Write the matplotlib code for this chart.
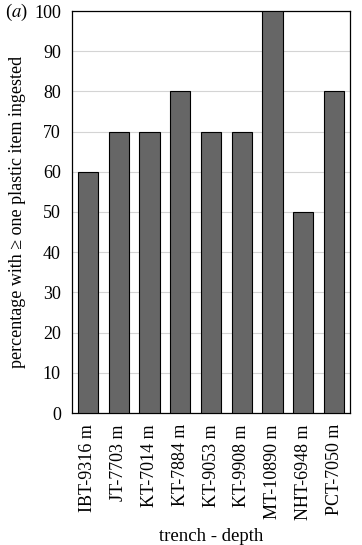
import numpy as np
import matplotlib
matplotlib.use("Agg")
import matplotlib.pyplot as plt

# data
trenches = ["IBT-9316 m", "JT-7703 m", "KT-7014 m", "KT-7884 m", "KT-9053 m",
            "KT-9908 m", "MT-10890 m", "NHT-6948 m", "PCT-7050 m"]
pct_ingested = [60, 70, 70, 80, 70, 70, 100, 50, 80]
yticks = [0, 10, 20, 30, 40, 50, 60, 70, 80, 90, 100]

plt.rcParams['font.family'] = ['Liberation Serif', 'DejaVu Serif']
plt.rcParams['mathtext.fontset'] = 'stix'

fig = plt.figure(figsize=(3.62, 5.45), dpi=100)
ax = fig.add_axes([72 / 362, 1 - 413 / 545, (350 - 72) / 362, (413 - 11) / 545])

x = np.arange(len(trenches))
ax.bar(x, pct_ingested, width=0.66, color="#666666", edgecolor="black", linewidth=0.8, zorder=3)

ax.set_ylim(0, 100)
ax.set_xlim(-0.5 - 0.02, len(trenches) - 0.5 + 0.02)
ax.set_yticks(yticks)
ax.yaxis.grid(True, color="#d4d4d4", linewidth=0.8, zorder=0)
ax.set_xticks(x)
ax.set_xticklabels(trenches, rotation=90, fontsize=13)
ax.tick_params(axis="y", labelsize=13, length=0, pad=8)
ax.tick_params(axis="x", length=0, pad=8)
for s in ax.spines.values():
    s.set_linewidth(0.9)

ax.set_ylabel("percentage with \u2265 one plastic item ingested", fontsize=13, labelpad=6)
ax.set_xlabel("trench - depth", fontsize=13.5, labelpad=6)
fig.text(5 / 362, 1 - 12 / 545, "($a$)", fontsize=13.5, va="center", ha="left")

fig.savefig("out.png", dpi=100)
